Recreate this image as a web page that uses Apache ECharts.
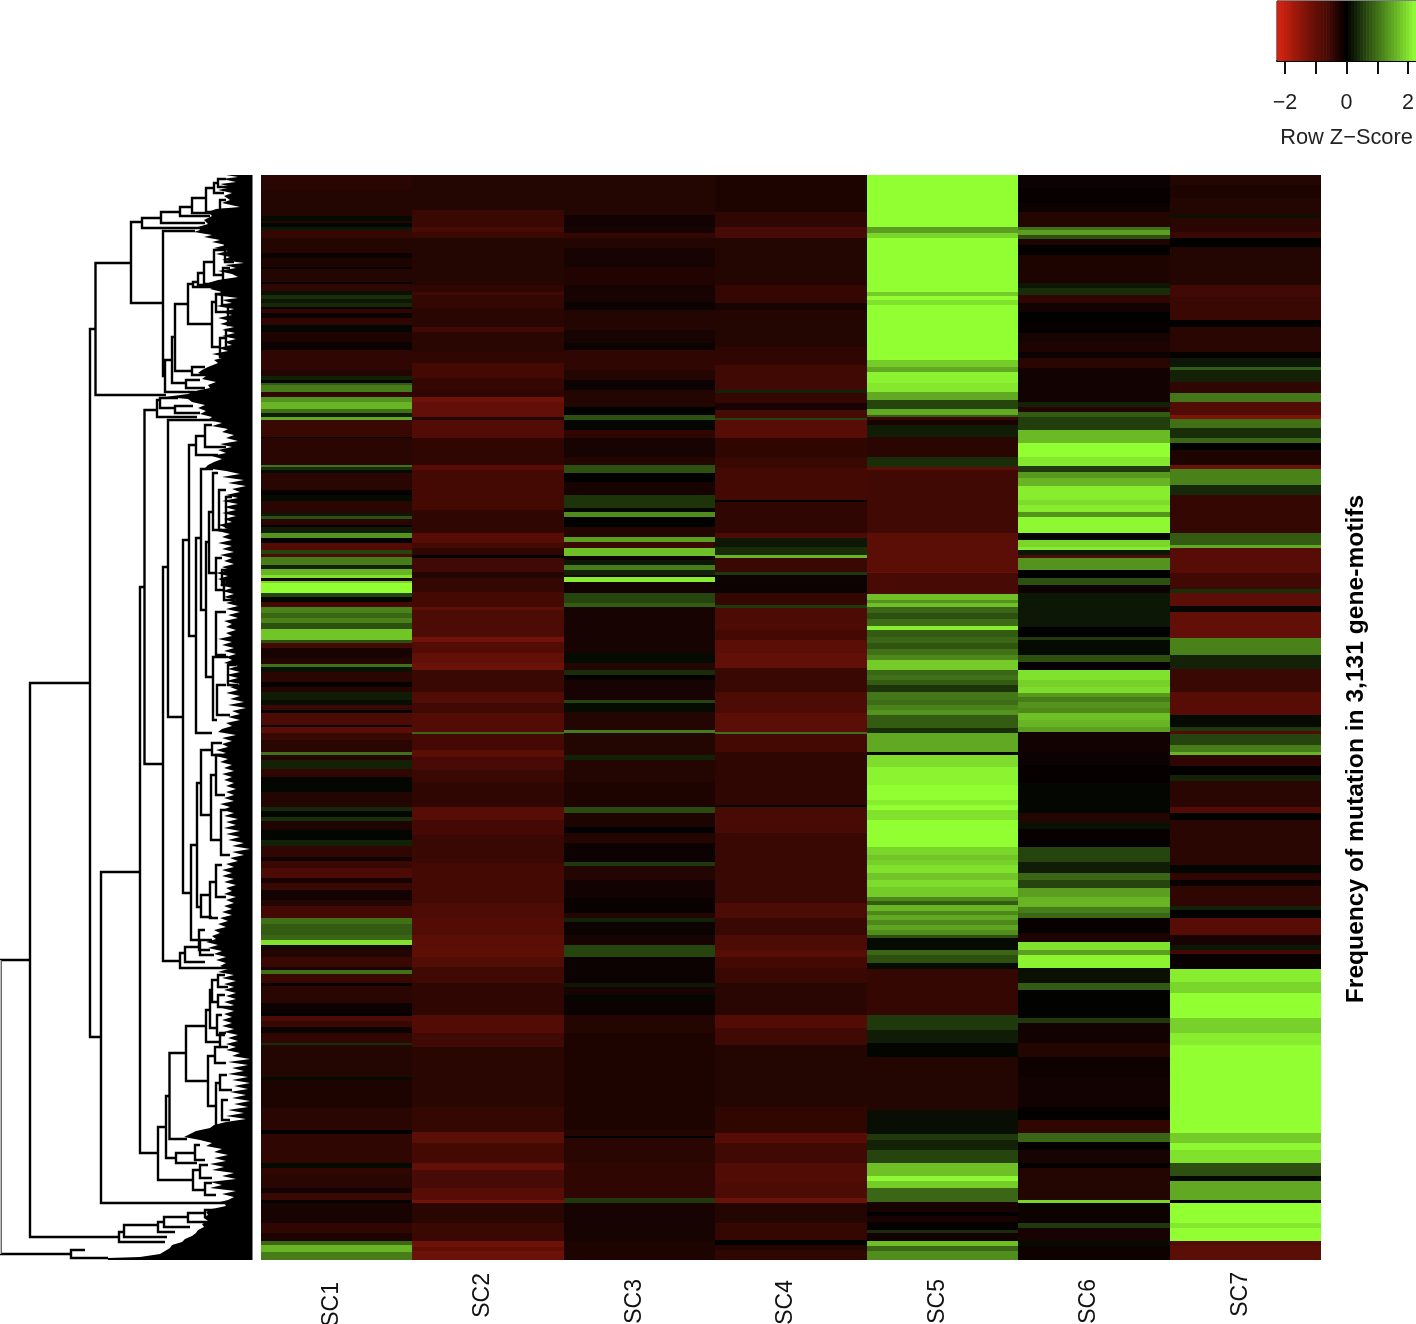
<!DOCTYPE html>
<html><head><meta charset="utf-8"><title>Frequency of mutation heatmap</title>
<style>html,body{margin:0;padding:0;background:#fff;overflow:hidden}#c{width:1416px;height:1324px}</style>
<script src="https://cdn.jsdelivr.net/npm/echarts@6/dist/echarts.min.js"></script></head>
<body><div id="c"></div>
<script>
// Each column: runs of [last row bin, z-score]; 1085 row bins of the 3,131 gene-motifs.
const subclones = ['SC1','SC2','SC3','SC4','SC5','SC6','SC7'];
const rowBins = 1085;
const SC1 = [[15,-.35],[27,-.3],[35,-.3],[41,-.32],[46,.1],[48,-.3],[52,.05],[55,.2],[63,-.45],[78,-.3],[83,-.1],[92,-.25],[94,-.05],[107,-.3],[109,-.05],[116,-.4],[120,.15],[124,.4],[128,.2],[132,.35],[134,-.1],[138,-.4],[143,-.1],[150,-.4],[157,.05],[167,-.25],[175,-.1],[195,-.4],[201,-.3],[205,.3],[208,.05],[210,.8],[217,1.1],[222,-.4],[227,1.3],[234,1.6],[238,1],[242,.25],[245,1.5],[262,-.5],[263,-.05],[290,-.35],[292,1],[295,.4],[298,.1],[315,-.35],[320,-.03],[326,.1],[338,-.35],[341,.2],[344,.7],[350,-.35],[352,-.05],[358,.25],[363,1.3],[368,-.02],[375,-.8],[379,.6],[382,-.7],[390,1.1],[394,.3],[400,1.6],[403,2],[406,-.2],[408,1.9],[418,2.26],[422,.6],[427,.05],[432,-.6],[438,1.15],[443,.9],[448,1.15],[454,.7],[465,1.75],[468,.7],[473,-.6],[483,-.2],[489,-.3],[492,1],[497,.15],[507,-.35],[512,-.08],[517,-.3],[525,.25],[530,.12],[535,-.5],[538,-.03],[550,-.7],[552,-.1],[558,-.9],[565,-.5],[577,-.35],[580,1],[585,-.3],[594,.3],[602,-.4],[617,.05],[632,-.3],[636,.35],[642,.05],[646,.4],[655,-.25],[665,.04],[671,.3],[682,-.4],[686,-.15],[693,-.5],[703,-.7],[708,-.2],[715,-.5],[725,-.15],[731,-.3],[743,-.6],[749,1],[760,.8],[765,.9],[770,2],[775,-.2],[782,-.3],[792,-.5],[795,-.2],[799,1],[808,-.5],[811,-.08],[828,-.35],[838,-.1],[841,-.02],[846,-.7],[852,-.5],[858,-.1],[868,-.4],[870,.4],[902,-.3],[905,.1],[933,-.25],[955,-.35],[959,0],[988,-.4],[993,.1],[1000,-.4],[1013,-.35],[1018,-.15],[1025,-.5],[1028,-.05],[1048,-.2],[1058,-.4],[1066,-.25],[1070,.9],[1077,1.6],[1085,1.1]];
const SC2 = [[35,-.3],[52,-.5],[57,-.65],[63,-.5],[110,-.3],[117,-.4],[120,-.55],[133,-.45],[152,-.35],[157,-.55],[177,-.35],[188,-.4],[203,-.6],[215,-.45],[222,-.4],[227,-1.15],[242,-1],[245,-.3],[263,-.8],[290,-.4],[295,-.85],[335,-.6],[358,-.4],[368,-.85],[373,-.6],[380,-.4],[383,-.02],[397,-.55],[403,-.3],[417,-.45],[432,-.6],[435,-.95],[462,-.7],[467,-1.2],[478,-.8],[488,-1],[495,-1.1],[517,-.5],[528,-.75],[538,-.55],[557,-.8],[559,.9],[575,-.6],[582,-.9],[595,-.65],[607,-.5],[632,-.4],[645,-.85],[660,-.6],[688,-.5],[728,-.6],[743,-.7],[760,-.8],[775,-.9],[782,-.95],[792,-.75],[808,-.55],[840,-.4],[858,-.8],[872,-.55],[932,-.35],[957,-.45],[968,-.9],[988,-.6],[995,-1],[1013,-.65],[1025,-.85],[1028,-1.2],[1048,-.35],[1066,-.5],[1072,-1.15],[1076,-.95],[1085,-1.1]];
const SC3 = [[40,-.3],[52,-.15],[58,-.2],[63,-.45],[73,-.3],[92,-.2],[110,-.28],[127,-.2],[135,-.1],[155,-.3],[168,-.2],[175,-.1],[195,-.4],[205,-.3],[215,-.1],[232,-.3],[240,0],[245,.7],[255,.05],[263,-.4],[282,-.2],[290,-.3],[298,.7],[307,0],[320,-.2],[333,.45],[337,.05],[342,1.25],[352,.02],[362,-.3],[367,1.4],[373,-.5],[381,1.7],[385,-.1],[390,.2],[395,1.1],[400,.3],[402,-.2],[407,2.1],[418,-.15],[428,.6],[432,.8],[462,-.2],[478,-.2],[488,.1],[495,-.3],[500,.4],[505,-.03],[525,-.2],[528,.6],[537,.1],[555,-.3],[558,1.1],[580,-.3],[585,.3],[607,-.3],[632,-.25],[638,.65],[652,-.25],[658,-.02],[668,-.3],[687,-.1],[691,.5],[705,-.3],[723,-.15],[738,-.08],[743,-.3],[747,.3],[760,-.1],[770,-.2],[782,.6],[808,-.1],[812,.2],[820,-.2],[825,.05],[840,-.1],[858,-.3],[902,-.25],[955,-.25],[961,-.3],[963,0],[988,-.35],[1023,-.4],[1028,.5],[1066,-.2],[1085,-.25]];
const SC4 = [[37,-.25],[52,-.4],[63,-.65],[110,-.3],[128,-.45],[135,-.2],[172,-.3],[190,-.4],[215,-.55],[218,.3],[228,-.45],[235,-.2],[243,-.65],[245,.6],[263,-.85],[283,-.4],[293,-.5],[325,-.6],[327,-.03],[358,-.4],[363,-.7],[372,.2],[380,.4],[383,1.6],[397,-.5],[400,.5],[418,-.1],[430,-.45],[433,.5],[455,-.7],[465,-.6],[478,-.9],[493,-1],[517,-.5],[538,-.7],[557,-.9],[559,1],[577,-.6],[630,-.4],[632,.1],[658,-.65],[728,-.5],[743,-.7],[760,-.5],[775,-.7],[782,-.85],[793,-.6],[808,-.5],[840,-.35],[853,-.8],[870,-.55],[932,-.3],[958,-.4],[968,-.85],[988,-.55],[1008,-.75],[1023,-.7],[1028,-1.1],[1048,-.3],[1065,-.45],[1070,0],[1075,-.3],[1085,-.4]];
const SC5 = [[52,2.26],[58,1.4],[63,1.9],[117,2.26],[121,1.8],[125,2.26],[130,2],[185,2.26],[192,1.8],[197,1.5],[208,2.15],[217,2.05],[225,1.5],[234,.6],[240,1.5],[242,.8],[245,-.5],[250,-.2],[262,.25],[282,-.35],[292,.4],[295,-.95],[358,-.55],[397,-.9],[398,-1.1],[419,-.65],[425,1.7],[428,1.3],[432,1.7],[438,.9],[444,.7],[451,.95],[455,2.1],[462,.8],[468,.9],[474,.75],[480,1],[485,1.2],[495,1.8],[500,.9],[505,1],[510,.8],[517,.45],[525,1.05],[530,.95],[535,1.15],[540,1.3],[553,.8],[558,.4],[577,1.5],[580,.05],[592,1.95],[610,2.15],[625,2.26],[630,2.1],[635,2.26],[645,2],[672,2.26],[680,1.9],[685,1.75],[690,1.85],[698,2],[705,1.75],[712,1.95],[722,1.8],[726,1.2],[730,.8],[736,1.6],[740,1.2],[745,1.5],[750,1.2],[755,1.45],[760,1.25],[763,.7],[775,.1],[780,.9],[788,.7],[794,.1],[840,-.45],[855,.5],[868,.25],[882,.04],[935,-.3],[959,.12],[965,.5],[975,.3],[988,.6],[1001,1.7],[1006,2.2],[1013,1.8],[1027,.9],[1037,-.2],[1041,-.02],[1047,-.2],[1055,-.05],[1058,.4],[1066,-.15],[1071,1.7],[1076,.9],[1085,1.25]];
const SC6 = [[13,-.1],[28,-.05],[37,-.1],[52,-.3],[55,1],[60,1.4],[64,.7],[70,-.25],[80,-.03],[108,-.25],[113,.2],[120,.4],[128,-.4],[137,-.15],[147,.02],[158,-.05],[168,-.2],[177,-.25],[183,-.1],[193,-.35],[227,-.15],[232,.3],[237,-.3],[242,.8],[255,.55],[268,1.65],[282,2.26],[291,2.05],[297,.5],[303,1.35],[311,1.6],[325,2.1],[330,1.95],[337,2.1],[342,1.3],[358,2.2],[365,.05],[372,1.9],[375,2.1],[380,.2],[383,-.7],[395,1.3],[403,0],[410,.7],[418,-.1],[433,.2],[452,.2],[462,0],[465,.5],[480,.1],[487,.7],[495,-.05],[505,2],[512,1.85],[518,1.95],[522,1.35],[527,1.1],[533,1.3],[538,1.2],[545,1.7],[552,1.6],[557,1.4],[577,-.15],[590,-.1],[608,-.05],[638,.05],[647,-.3],[654,.15],[672,-.05],[687,.6],[698,.25],[705,.9],[713,.6],[722,1.4],[732,1.6],[738,1.1],[743,.9],[758,-.05],[767,-.25],[775,2],[780,1.4],[793,2.15],[808,.15],[815,.8],[843,.03],[848,.5],[868,-.15],[882,-.3],[902,-.12],[932,-.15],[945,-.03],[958,-.4],[967,.9],[975,-.04],[988,-.2],[993,-.03],[1025,-.3],[1028,1.9],[1048,-.1],[1053,.5],[1066,-.2],[1071,.1],[1085,-.12]];
const SC7 = [[10,-.3],[23,-.25],[40,-.3],[43,.15],[57,-.35],[63,-.5],[72,.02],[110,-.3],[122,-.55],[145,-.5],[152,-.03],[177,-.35],[183,-.05],[192,.2],[195,.8],[207,.3],[218,-.4],[227,1.05],[240,-.75],[244,-1.3],[253,1],[263,.4],[268,.9],[275,.02],[290,-.25],[294,-1.1],[310,1.15],[320,.35],[358,-.45],[370,.8],[373,1.5],[398,-.85],[414,-.55],[418,.4],[431,-.9],[437,.05],[463,-1],[480,1.15],[494,.3],[517,-.5],[540,-.85],[552,.1],[556,.5],[559,-.8],[570,.6],[577,1.1],[580,1.6],[591,-.4],[600,-.02],[606,.3],[632,-.35],[638,-.8],[645,.03],[690,-.35],[698,.04],[705,-.4],[711,-.08],[731,-.4],[735,.3],[743,.02],[760,-.85],[770,-.2],[775,.2],[779,-.6],[794,-.08],[807,2.1],[818,1.9],[843,2.26],[858,1.85],[870,2.1],[958,2.26],[968,1.8],[975,2.2],[988,2],[1001,.7],[1006,.05],[1025,1.5],[1028,-.02],[1048,2.26],[1053,2.05],[1066,2.26],[1070,-.8],[1085,-.9]];
const columns = [SC1,SC2,SC3,SC4,SC5,SC6,SC7];

// Dendrogram merges: [height, upper row bin, lower row bin, upper child height, lower child height]
const dendroBranches = [[0.5,785,1079,30,71],[30,508,1062,90,119],[90,154,862,95.5,101],[95.5,88,220,131,166],[131,47,128,142,163],[142,43,53,161,205],[161,37,48,180,205],[180,32,41,192,210],[192,23,38,206,215],[206,13,37,214,220],[214,8,18,218,224],[218,4,12,226,232],[220,25,35,226,232],[163,56,201,195,165],[165,185,217,172,195],[172,162,208,175,186],[175,129,196,188,192],[188,109,149,193,212],[193,107,112,198,218],[198,98,110,204,225],[204,87,109,214,222],[214,75,100,225,223],[225,65,87,230,234],[223,93,107,230,238],[212,127,172,216,220],[216,119,137,222,228],[222,113,130,230,235],[228,130,150,238,240],[220,163,182,226,236],[226,155,172,232,238],[192,192,200,205,215],[186,205,213,200,205],[101,697,1028,140,240],[140,412,978,144.5,158],[144.5,235,589,157,163],[157,225,242,160,197],[160,223,233,178,175],[175,231,238,193,200],[163,392,786,168,180],[168,245,542,215,183],[183,365,718,189,191],[189,270,461,196,196],[196,261,280,205,218],[205,250,272,212,226],[196,363,558,201,212],[201,294,435,213,206],[206,367,502,209,214],[209,337,398,213,216],[213,298,355,218,222],[219,315,355,226,228],[226,322,352,232,232],[216,383,415,222,224],[213,482,545,228,217],[216,437,480,226,226],[222,395,410,232,232],[224,405,425,232,235],[228,490,510,236,238],[217,510,540,226,230],[191,670,765,197,199],[197,608,732,201,201],[201,575,640,212,211],[212,568,580,222,222],[211,600,665,216,221],[216,580,620,226,225],[221,635,680,226,230],[201,720,742,210,212],[210,707,743,216,218],[216,690,722,222,226],[199,755,775,205,210],[180,778,793,185,230],[185,772,787,200,205],[200,765,780,212,214],[158,952,1005,166,193],[166,921,983,169.5,176],[169.5,878,964,186,187],[186,851,906,206,208],[206,835,867,210,220],[210,815,853,212,217],[212,805,827,218,218],[218,800,812,225,228],[218,820,832,225,230],[217,840,860,222,225],[220,858,872,226,228],[208,881,931,215,216],[215,872,888,220,226],[216,908,955,220,222],[220,900,915,227,232],[222,925,945,228,230],[176,978,988,195,197],[195,970,985,200,205],[193,995,1015,200,205],[200,990,1003,208,212],[205,1008,1020,212,216],[119,1057,1067,124,165],[124,1050,1062,158,167],[158,1047,1057,164,175],[164,1042,1052,188,190],[188,1038,1047,205,210],[205,1035,1042,215,218],[71,1075,1083,85,108]];
// Left edge of the unresolved leaf mass: [height, row bin]
const leafMassEdge = [[226,0],[238,2],[222,4],[236,7],[220,9],[232,12],[218,15],[232,18],[224,21],[230,25],[222,28],[240,32],[216,34],[208,37],[212,41],[204,45],[208,49],[198,52],[200,55],[194,57],[212,60],[204,62],[220,65],[212,67],[226,70],[214,73],[228,76],[216,79],[230,82],[222,85],[244,88],[225,90],[236,93],[218,96],[232,99],[238,102],[218,105],[208,108],[216,111],[210,114],[222,117],[214,120],[238,123],[222,125],[232,128],[216,131],[234,134],[222,137],[232,140],[218,143],[230,146],[220,149],[234,152],[222,155],[235,158],[222,161],[236,164],[224,167],[232,170],[218,173],[228,176],[212,179],[226,182],[214,185],[218,188],[208,192],[202,195],[198,198],[206,201],[202,204],[216,207],[208,210],[210,213],[195,216],[188,219],[165,222],[188,224],[192,227],[205,230],[198,233],[206,236],[200,239],[212,242],[208,245],[222,248],[212,251],[228,254],[222,257],[234,260],[226,263],[238,266],[220,269],[232,272],[218,275],[226,278],[212,281],[222,284],[214,287],[208,290],[205,293],[226,296],[240,299],[222,302],[244,305],[228,308],[246,311],[232,314],[240,317],[226,320],[238,323],[222,326],[238,329],[224,332],[236,335],[222,338],[236,341],[224,344],[232,347],[218,350],[228,353],[218,356],[230,359],[222,362],[232,365],[218,368],[232,371],[222,374],[234,377],[220,380],[232,383],[224,386],[234,389],[222,392],[230,395],[216,398],[228,401],[218,404],[226,407],[220,410],[232,413],[222,416],[234,419],[224,422],[236,425],[226,428],[238,431],[226,434],[240,437],[228,440],[238,443],[224,446],[232,449],[226,452],[236,455],[226,458],[232,461],[218,464],[232,467],[222,470],[234,473],[224,476],[236,479],[226,482],[232,485],[224,488],[238,491],[228,494],[240,497],[226,500],[238,503],[226,506],[240,509],[230,512],[238,515],[226,518],[240,521],[230,524],[244,527],[228,530],[246,533],[232,536],[240,539],[228,542],[240,545],[226,548],[232,551],[222,554],[218,557],[236,560],[222,563],[232,566],[222,569],[228,572],[216,575],[226,578],[216,581],[228,584],[220,587],[232,590],[224,593],[234,596],[222,599],[232,602],[224,605],[234,608],[226,611],[236,614],[226,617],[234,620],[224,623],[234,626],[220,629],[230,632],[222,635],[234,638],[224,641],[238,644],[226,647],[236,650],[224,653],[240,656],[226,659],[240,662],[228,665],[244,668],[232,671],[250,674],[232,677],[244,680],[230,683],[238,686],[226,689],[234,692],[222,695],[232,698],[222,701],[234,704],[224,707],[236,710],[226,713],[232,716],[224,719],[236,722],[226,725],[234,728],[224,731],[232,734],[222,737],[232,740],[220,743],[228,746],[218,749],[226,752],[214,755],[220,758],[212,761],[216,764],[206,767],[218,770],[208,773],[222,776],[214,779],[226,782],[216,785],[226,788],[220,791],[228,794],[218,797],[234,800],[222,803],[236,806],[224,809],[234,812],[224,815],[236,818],[226,821],[236,824],[224,827],[234,830],[222,833],[234,836],[224,839],[232,842],[222,845],[232,848],[222,851],[234,854],[224,857],[238,860],[228,863],[238,866],[226,869],[236,872],[226,875],[240,878],[232,881],[250,884],[228,887],[248,890],[232,893],[244,896],[228,899],[248,902],[232,905],[250,908],[234,911],[248,914],[230,917],[246,920],[232,923],[250,926],[234,929],[248,932],[228,935],[244,938],[226,941],[246,944],[226,947],[214,950],[210,953],[196,956],[190,959],[184,962],[200,965],[212,968],[206,971],[222,974],[214,977],[228,980],[214,983],[226,986],[210,989],[224,992],[212,995],[234,998],[222,1001],[236,1004],[210,1007],[222,1010],[210,1013],[236,1016],[222,1019],[234,1022],[228,1025],[220,1027],[157,1028],[225,1029],[226,1031],[212,1034],[206,1037],[208,1040],[204,1043],[208,1046],[202,1049],[204,1052],[198,1055],[196,1058],[192,1061],[185,1064],[182,1067],[172,1070],[170,1073],[165,1076],[160,1079],[140,1082],[108,1083],[108,1085]];
const rootSpine = [[0.5,785],[0.5,1079]];

// Colour key
const keySteps = [-2.26,-2.16,-2.06,-1.96,-1.86,-1.76,-1.66,-1.56,-1.46,-1.36,-1.26,-1.16,-1.06,-0.96,-0.86,-0.76,-0.66,-0.56,-0.46,-0.36,-0.26,-0.16,-0.06,0.04,0.14,0.24,0.34,0.44,0.54,0.64,0.74,0.84,0.94,1.04,1.14,1.24,1.34,1.44,1.54,1.64,1.74,1.84,1.94,2.04,2.14,2.26];
const keyTicks = [-2,-1,0,1,2];
const keyTickLabels = [-2,0,2];
const labelDrop = [10,1,7,8,7,7,0];
const yTitle = 'Frequency of mutation in 3,131 gene-motifs';
const keyTitle = 'Row Z\u2212Score';
const rampColors = ['#d8220f','#a21a0b','#6c1108','#420903','#000000','#24400d','#49801a','#6ebf26','#92ff33'];

// [column, first bin, z, end bin]
const heatData = [];
columns.forEach((runs, c) => {
  let start = 0;
  runs.forEach(([end, z]) => { heatData.push([c, start, z, end]); start = end; });
});
const keyData = keySteps.slice(0, -1).map((s, i) => [s, keySteps[i + 1], (s + keySteps[i + 1]) / 2]);

const FONT = '"Liberation Sans", Arial, sans-serif';
const rich = {};
labelDrop.forEach((p, i) => { rich['p' + i] = {fontFamily: FONT, fontSize: 23, color: '#111', padding: [0, p, 10, 0]}; });

const chart = echarts.init(document.getElementById('c'), null, {renderer: 'canvas'});
chart.setOption({
  animation: false,
  backgroundColor: '#fff',
  visualMap: {show: false, type: 'continuous', min: -2.26, max: 2.26, dimension: 2, seriesIndex: [0, 3],
    inRange: {color: rampColors}},
  grid: [
    {left: 261, top: 175, width: 1060, height: 1085, outerBoundsMode: 'none'},
    {left: 0, top: 175, width: 252.5, height: 1085, outerBoundsMode: 'none'},
    {left: 1277, top: 1, width: 139, height: 60, outerBoundsMode: 'none', show: true, borderColor: '#000', borderWidth: 1, backgroundColor: 'transparent'}
  ],
  xAxis: [
    {gridIndex: 0, type: 'category', data: subclones, axisLine: {show: false}, axisTick: {show: false}, splitLine: {show: false},
      axisLabel: {rotate: 90, margin: 12, interval: 0, formatter: (v, i) => '{p' + i + '|' + v + '}', rich}},
    {gridIndex: 1, type: 'value', min: 0, max: 252.5, show: false},
    {gridIndex: 2, type: 'value', min: -2.26, max: 2.26, position: 'bottom', splitLine: {show: false},
      axisLine: {show: true, lineStyle: {color: '#000', width: 2}},
      axisTick: {show: true, length: 13, customValues: keyTicks, lineStyle: {color: '#111', width: 2}},
      axisLabel: {show: true, margin: 31, customValues: keyTickLabels, fontFamily: FONT, fontSize: 21.5, color: '#222', hideOverlap: false,
        formatter: v => String(v).replace('-', '\u2212')},
      name: keyTitle, nameLocation: 'middle', nameGap: 66, nameTextStyle: {fontFamily: FONT, fontSize: 21.8, color: '#222'}}
  ],
  yAxis: [
    {gridIndex: 0, type: 'value', min: 0, max: rowBins, inverse: true, position: 'right', axisLine: {show: false}, axisTick: {show: false},
      axisLabel: {show: false}, splitLine: {show: false},
      name: yTitle, nameLocation: 'middle', nameRotate: 90, nameGap: 23,
      nameTextStyle: {fontFamily: FONT, fontSize: 24.6, fontWeight: 'bold', color: '#000', padding: [0, 63, 0, 0]}},
    {gridIndex: 1, type: 'value', min: 0, max: rowBins, inverse: true, show: false},
    {gridIndex: 2, type: 'value', min: 0, max: 1, show: false}
  ],
  series: [
    {type: 'custom', xAxisIndex: 0, yAxisIndex: 0, data: heatData, silent: true, progressive: 0, clip: true,
      renderItem: (p, api) => {
        const c = api.coord([api.value(0), api.value(1)]);
        const e = api.coord([api.value(0), api.value(3)]);
        const bw = api.size([1, 0])[0];
        const x0 = Math.round(c[0] - bw / 2), x1 = Math.round(c[0] + bw / 2);
        return {type: 'rect', shape: {x: x0, y: c[1], width: x1 - x0, height: e[1] - c[1]}, style: {fill: api.visual('color')}};
      }},
    {type: 'custom', xAxisIndex: 1, yAxisIndex: 1, data: leafMassEdge, silent: true, clip: false, progressive: 0,
      renderItem: (p, api) => {
        if (p.dataIndex !== 0) return null;
        const pts = leafMassEdge.map(d => api.coord(d));
        pts.push(api.coord([252.5, rowBins]), api.coord([252.5, 0]));
        return {type: 'polygon', shape: {points: pts}, style: {fill: '#000'}};
      }},
    {type: 'custom', xAxisIndex: 1, yAxisIndex: 1, data: dendroBranches, silent: true, clip: false, progressive: 0,
      renderItem: (p, api) => {
        const [h, y1, y2, h1, h2] = [0, 1, 2, 3, 4].map(i => api.value(i));
        return {type: 'polyline', shape: {points: [api.coord([h1, y1]), api.coord([h, y1]), api.coord([h, y2]), api.coord([h2, y2])]},
          style: {stroke: '#000', lineWidth: 2.4, fill: null}};
      }},
    {type: 'custom', xAxisIndex: 2, yAxisIndex: 2, data: keyData, silent: true, progressive: 0, clip: true,
      renderItem: (p, api) => {
        const a = api.coord([api.value(0), 1]), b = api.coord([api.value(1), 0]);
        return {type: 'rect', shape: {x: a[0], y: a[1], width: b[0] - a[0] + 0.6, height: b[1] - a[1]}, style: {fill: api.visual('color')}};
      }},
    {type: 'line', xAxisIndex: 1, yAxisIndex: 1, data: rootSpine, symbol: 'none', silent: true, clip: false, lineStyle: {color: '#bdbdbd', width: 1.5}}
  ]
});
</script></body></html>
